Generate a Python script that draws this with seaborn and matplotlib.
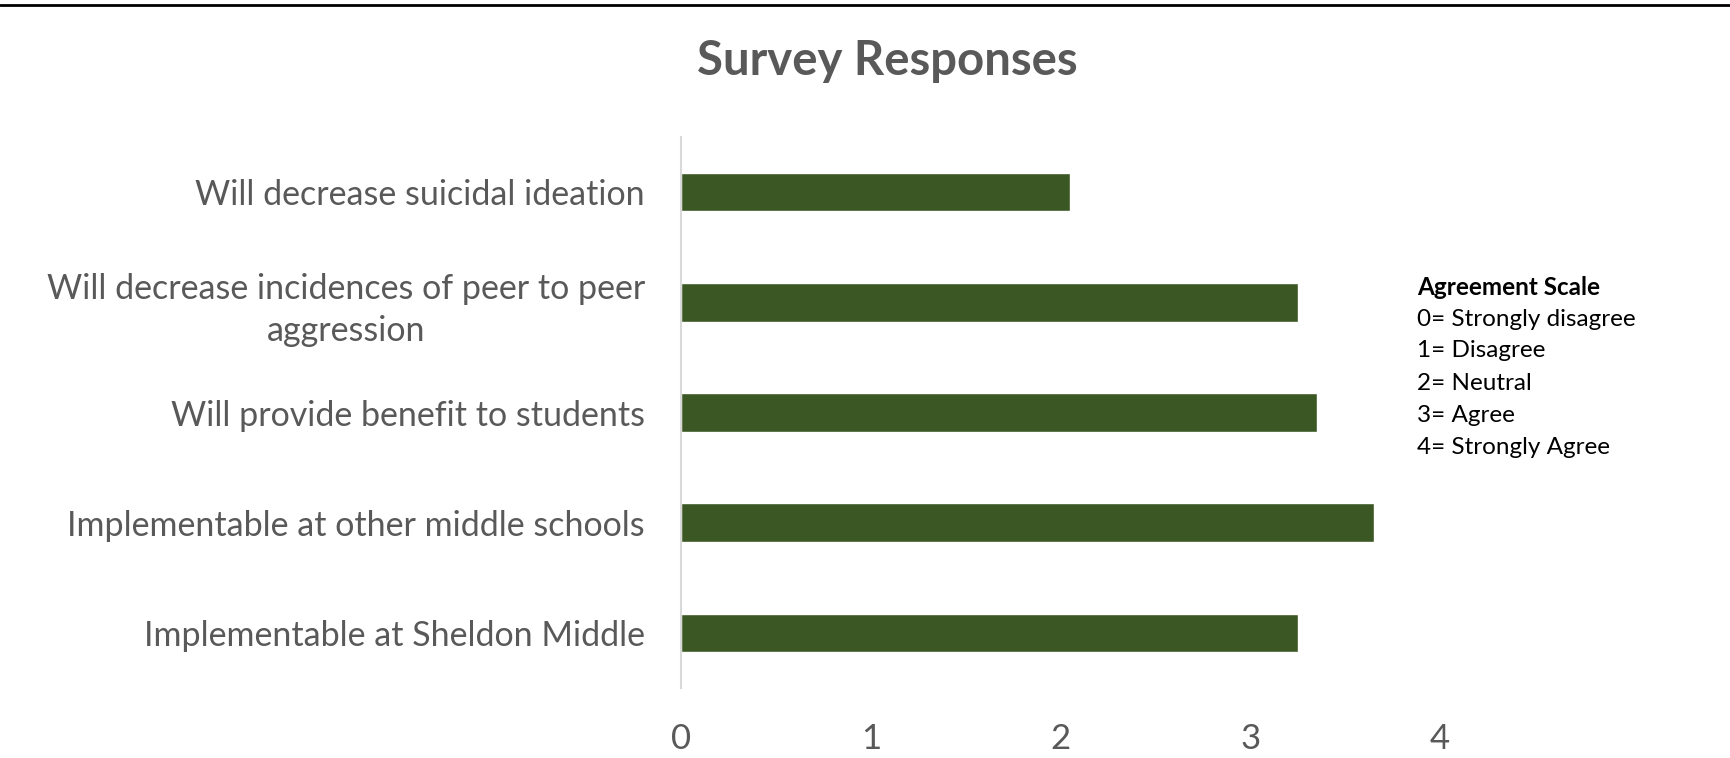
import matplotlib
matplotlib.use("Agg")
import matplotlib.pyplot as plt
import seaborn as sns
import pandas as pd
from matplotlib.lines import Line2D

categories = [
    "Will decrease suicidal ideation",
    "Will decrease incidences of peer to peer\naggression",
    "Will provide benefit to students",
    "Implementable at other middle schools",
    "Implementable at Sheldon Middle",
]
values = [2.05, 3.25, 3.35, 3.65, 3.25]
x_ticks = [0, 1, 2, 3, 4]
title = "Survey Responses"
scale_title = "Agreement Scale"
scale_lines = ["0= Strongly disagree", "1= Disagree", "2= Neutral", "3= Agree", "4= Strongly Agree"]

sns.set_theme(style="white")
plt.rcParams["font.family"] = ["Lato", "DejaVu Sans"]

df = pd.DataFrame({"category": categories, "value": values})

fig = plt.figure(figsize=(17.3, 7.58), dpi=100)
ax = fig.add_axes([681/1730, 1-688/758, (1440-681)/1730, (688-137)/758])

sns.barplot(data=df, x="value", y="category", orient="h", color="#3b5724",
            width=0.35, saturation=1, ax=ax)

ax.set_xlim(0, 4)
ax.set_ylim(4.5, -0.5)
ax.set_xticks(x_ticks)
ax.set_xticklabels([str(t) for t in x_ticks])
ax.set_xlabel("")
ax.set_ylabel("")
for s in ["top", "right", "bottom"]:
    ax.spines[s].set_visible(False)
ax.spines["left"].set_color("#d9d9d9")
ax.spines["left"].set_linewidth(1.5)
ax.tick_params(axis="x", length=0, pad=25, labelsize=25, labelcolor="#595959")
ax.tick_params(axis="y", length=0, pad=26, labelsize=24.5, labelcolor="#595959")
for lbl in ax.get_yticklabels():
    lbl.set_multialignment("center")
    lbl.set_linespacing(1.38)

fig.text(887/1730, 1-61/758, title, ha="center", va="center", fontsize=34,
         fontweight="bold", color="#595959")

fig.text(1417/1730, 1-287/758, scale_title, ha="left", va="center", fontsize=17.5,
         fontweight="bold", color="black")
for i, line in enumerate(scale_lines):
    fig.text(1417/1730, 1-(319+32*i)/758, line, ha="left", va="center", fontsize=17.5,
             color="black")

fig.add_artist(Line2D([0, 1], [1-5/758, 1-5/758], transform=fig.transFigure,
                      color="black", linewidth=2))

fig.savefig("out.png", dpi=100, facecolor="white")
